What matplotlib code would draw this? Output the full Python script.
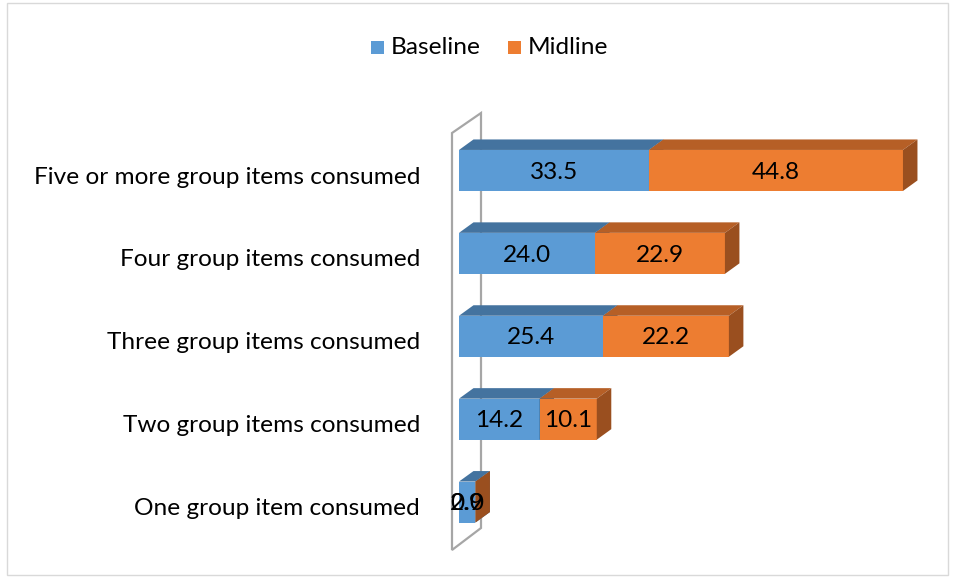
import matplotlib
matplotlib.use("Agg")
import matplotlib.pyplot as plt
from matplotlib.patches import Polygon, Rectangle

categories = [
    "Five or more group items consumed",
    "Four group items consumed",
    "Three group items consumed",
    "Two group items consumed",
    "One group item consumed",
]
baseline = [33.5, 24.0, 25.4, 14.2, 2.9]
midline = [44.8, 22.9, 22.2, 10.1, 0.0]
series_names = ["Baseline", "Midline"]

FONT = "Lato"
FS = 17.6

W, H = 955, 578
fig = plt.figure(figsize=(W / 100, H / 100), dpi=100)

# axes placed in pixel units: x=0 at 459px, y categories centred 170..502px
x_left, x_right = 459, 912.6
y_top, y_bot = 129, 543.5
ax = fig.add_axes([x_left / W, 1 - y_bot / H, (x_right - x_left) / W, (y_bot - y_top) / H])
ax.set_xlim(0, 80)
ax.set_ylim(4.5, -0.5)
ax.axis("off")

px_x = (x_right - x_left) / 80.0      # pixels per percent
px_y = (y_bot - y_top) / 5.0          # pixels per category
dx = 14.5 / px_x                       # depth offset (data units)
dy = 10.5 / px_y
bh = 41.0 / px_y                       # bar thickness

colors = {
    "Baseline": ("#5B9BD5", "#44739F", "#3E6A93"),
    "Midline": ("#ED7D31", "#B65F26", "#9A4F1F"),
}


def box(x0, x1, yc, front, top, side):
    yt, yb = yc - bh / 2, yc + bh / 2
    ax.add_patch(Polygon([(x0, yt), (x1, yt), (x1, yb), (x0, yb)], closed=True,
                         facecolor=front, edgecolor="none", clip_on=False, zorder=3))
    ax.add_patch(Polygon([(x0, yt), (x1, yt), (x1 + dx, yt - dy), (x0 + dx, yt - dy)],
                         closed=True, facecolor=top, edgecolor="none", clip_on=False, zorder=3))
    ax.add_patch(Polygon([(x1, yt), (x1 + dx, yt - dy), (x1 + dx, yb - dy), (x1, yb)],
                         closed=True, facecolor=side, edgecolor="none", clip_on=False, zorder=3))


# back wall of the 3-D plot
wall_x0 = (452 - x_left) / px_x
wall_x1 = (481 - x_left) / px_x
wy = lambda p: -0.5 + (p - y_top) / px_y
wall = [(wall_x0, wy(133)), (wall_x1, wy(113)), (wall_x1, wy(528)), (wall_x0, wy(550))]
ax.add_patch(Polygon(wall, closed=True, facecolor="white", edgecolor="#A6A6A6",
                     linewidth=1.6, clip_on=False, zorder=1))

for i, cat in enumerate(categories):
    b, m = baseline[i], midline[i]
    box(0, b, i, *colors["Baseline"])
    box(b, b + m, i, *colors["Midline"])
    ax.text(b / 2, i + 0.02, f"{b:.1f}", ha="center", va="center", fontsize=FS,
            family=FONT, color="black", zorder=5)
    # a zero-width segment keeps its label on top of the neighbouring one
    mx = b + m / 2 if m > 0 else b / 2
    ax.text(mx, i + 0.02, f"{m:.1f}", ha="center", va="center", fontsize=FS,
            family=FONT, color="black", zorder=5)
    ax.text(-39 / px_x, i + 0.08, cat, ha="right", va="center", fontsize=FS,
            family=FONT, color="black", clip_on=False)

# legend
for name, xs in zip(series_names, [371, 508]):
    fig.patches.append(Rectangle((xs / W, 1 - 54 / H), 13 / W, 13 / H,
                                 transform=fig.transFigure, facecolor=colors[name][0],
                                 edgecolor="none"))
    fig.text((xs + 20) / W, 1 - 48 / H, name, ha="left", va="center",
             fontsize=FS, family=FONT, color="black")

# chart border
fig.patches.append(Rectangle((7 / W, 3 / H), 941 / W, 572 / H, transform=fig.transFigure,
                             facecolor="none", edgecolor="#D9D9D9", linewidth=1.0))

fig.savefig("out.png", dpi=100)
